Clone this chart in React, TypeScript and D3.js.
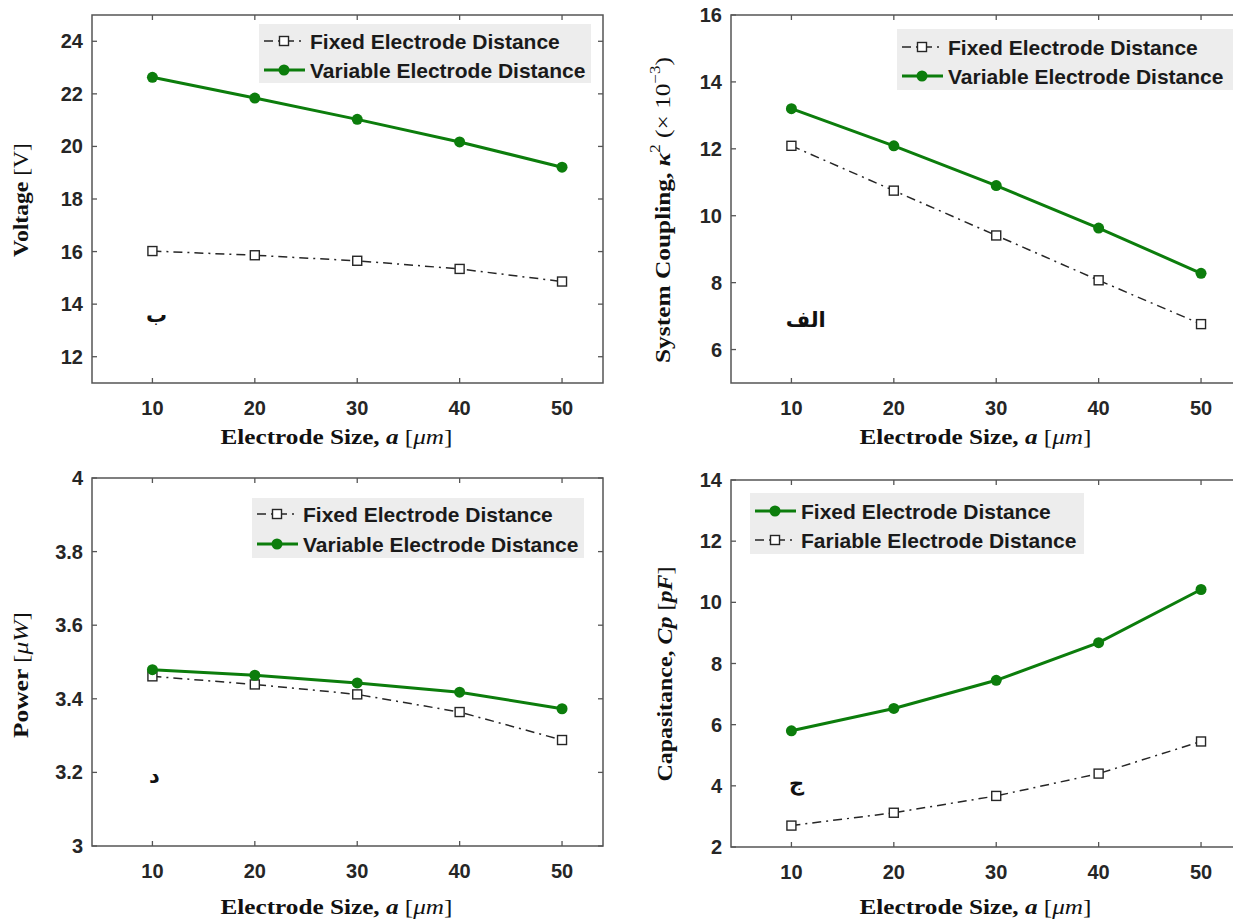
import React from 'react';
import * as d3 from 'd3';

const electrodeSize = [10, 20, 30, 40, 50];
const xTickValues = [10, 20, 30, 40, 50];

const voltageFixed = [16.02, 15.86, 15.65, 15.34, 14.86];
const voltageVariable = [22.63, 21.84, 21.03, 20.17, 19.21];
const voltageTicks = [12, 14, 16, 18, 20, 22, 24];

const couplingFixed = [12.09, 10.75, 9.41, 8.07, 6.76];
const couplingVariable = [13.2, 12.09, 10.9, 9.63, 8.28];
const couplingTicks = [6, 8, 10, 12, 14, 16];

const powerFixed = [3.461, 3.439, 3.412, 3.364, 3.288];
const powerVariable = [3.479, 3.464, 3.443, 3.418, 3.373];
const powerTicks = [3, 3.2, 3.4, 3.6, 3.8, 4];

const capacitanceGreen = [5.8, 6.53, 7.45, 8.68, 10.42];
const capacitanceDashed = [2.7, 3.12, 3.67, 4.4, 5.45];
const capacitanceTicks = [2, 4, 6, 8, 10, 12, 14];

const legendStandard = ['Fixed Electrode Distance', 'Variable Electrode Distance'];
const legendCapacitance = ['Fixed Electrode Distance', 'Fariable Electrode Distance'];

const GREEN = '#0c7d0c';
const DASH = '#262626';
const AXIS = '#555555';
const DASHARRAY = '9,5,2,5';
const SANS = '"Liberation Sans", Arial, sans-serif';
const SERIF = '"Liberation Serif", "Times New Roman", serif';

type Style = 'green' | 'dash';
interface Series { values: number[]; style: Style }
interface LegendEntry { label: string; style: Style }
interface Box { l: number; t: number; r: number; b: number }

function Marker({ x, y, style }: { x: number; y: number; style: Style }) {
  if (style === 'green') return <circle cx={x} cy={y} r={5.5} fill={GREEN} />;
  return <rect x={x - 4.5} y={y - 4.5} width={9} height={9} fill="white" stroke={DASH} strokeWidth={1.4} />;
}

function Panel(props: {
  box: Box; xDomain: [number, number]; yDomain: [number, number]; yTicks: number[];
  series: Series[]; legendBox: Box; legend: LegendEntry[]; legendRows: [number, number];
  ylabel: React.ReactNode; ylabelX: number; ylabelLen: number; ylabelCY: number;
  xlabelY: number; arabic: { text: string; x: number; y: number };
}) {
  const { box } = props;
  const x = d3.scaleLinear().domain(props.xDomain).range([box.l, box.r]);
  const y = d3.scaleLinear().domain(props.yDomain).range([box.b, box.t]);
  const line = d3.line<number>().x((_, i) => x(electrodeSize[i])).y((d) => y(d));
  const tl = 5;
  const fmt = (v: number) => String(+v.toFixed(1));
  const lb = props.legendBox;
  return (
    <g>
      {props.series.map((s, si) => (
        <g key={si}>
          <path d={line(s.values) || ''} fill="none"
            stroke={s.style === 'green' ? GREEN : DASH}
            strokeWidth={s.style === 'green' ? 3 : 1.5}
            strokeDasharray={s.style === 'green' ? undefined : DASHARRAY} />
          {s.values.map((v, i) => <Marker key={i} x={x(electrodeSize[i])} y={y(v)} style={s.style} />)}
        </g>
      ))}
      <rect x={box.l} y={box.t} width={box.r - box.l} height={box.b - box.t} fill="none" stroke={AXIS} strokeWidth={1.5} />
      {xTickValues.map((t) => (
        <g key={'x' + t}>
          <line x1={x(t)} x2={x(t)} y1={box.b} y2={box.b - tl} stroke={AXIS} strokeWidth={1.3} />
          <line x1={x(t)} x2={x(t)} y1={box.t} y2={box.t + tl} stroke={AXIS} strokeWidth={1.3} />
          <text x={x(t)} y={box.b + 25} textAnchor="middle" dominantBaseline="central"
            fontFamily={SANS} fontWeight="bold" fontSize={20} fill="#262626">{t}</text>
        </g>
      ))}
      {props.yTicks.map((t) => (
        <g key={'y' + t}>
          <line x1={box.l} x2={box.l + tl} y1={y(t)} y2={y(t)} stroke={AXIS} strokeWidth={1.3} />
          <line x1={box.r} x2={box.r - tl} y1={y(t)} y2={y(t)} stroke={AXIS} strokeWidth={1.3} />
          <text x={box.l - 9} y={y(t)} textAnchor="end" dominantBaseline="central"
            fontFamily={SANS} fontWeight="bold" fontSize={20} fill="#262626">{fmt(t)}</text>
        </g>
      ))}
      <rect x={lb.l} y={lb.t} width={lb.r - lb.l} height={lb.b - lb.t} fill="#ededed" />
      {props.legend.map((e, i) => {
        const ry = props.legendRows[i];
        return (
          <g key={'l' + i}>
            <line x1={lb.l + 5} x2={lb.l + 46} y1={ry} y2={ry}
              stroke={e.style === 'green' ? GREEN : DASH}
              strokeWidth={e.style === 'green' ? 3 : 1.5}
              strokeDasharray={e.style === 'green' ? undefined : DASHARRAY} />
            <Marker x={lb.l + 25} y={ry} style={e.style} />
            <text x={lb.l + 51} y={ry} dominantBaseline="central" fontFamily={SANS}
              fontWeight="bold" fontSize={21} fill="#1a1a1a">{e.label}</text>
          </g>
        );
      })}
      <text x={(box.l + box.r) / 2 - 11} y={props.xlabelY} textAnchor="middle" dominantBaseline="central"
        fontFamily={SERIF} fontSize={21} fill="#111" textLength={232} lengthAdjust="spacingAndGlyphs">
        <tspan fontWeight="bold">Electrode Size, </tspan>
        <tspan fontStyle="italic" fontWeight="bold">a</tspan>
        <tspan> [</tspan>
        <tspan fontStyle="italic">μm</tspan>
        <tspan>]</tspan>
      </text>
      <text transform={`translate(${props.ylabelX},${props.ylabelCY}) rotate(-90)`} textAnchor="middle"
        dominantBaseline="central" fontFamily={SERIF} fontSize={21} fill="#111"
        textLength={props.ylabelLen} lengthAdjust="spacingAndGlyphs">
        {props.ylabel}
      </text>
      <text x={x(props.arabic.x)} y={y(props.arabic.y)} textAnchor="middle" dominantBaseline="central"
        fontFamily='"DejaVu Sans", sans-serif' fontWeight="bold" fontSize={21} fill="#111">{props.arabic.text}</text>
    </g>
  );
}

export default function App() {
  const xDomain: [number, number] = [4.1, 54];
  return (
    <div style={{ position: 'absolute', left: 0, top: 0 }}>
      <svg width={1233} height={919} style={{ display: 'block', background: 'white' }}>
        <rect x={0} y={0} width={1233} height={919} fill="white" />
        <Panel
          box={{ l: 92, t: 15, r: 603, b: 383 }} xDomain={xDomain} yDomain={[11, 25]} yTicks={voltageTicks}
          series={[{ values: voltageFixed, style: 'dash' }, { values: voltageVariable, style: 'green' }]}
          legendBox={{ l: 259, t: 24, r: 591, b: 83 }} legendRows={[41, 70]}
          legend={[{ label: legendStandard[0], style: 'dash' }, { label: legendStandard[1], style: 'green' }]}
          ylabel={<><tspan fontWeight="bold">Voltage</tspan><tspan> [V]</tspan></>}
          ylabelX={21} ylabelLen={114} ylabelCY={200} xlabelY={437}
          arabic={{ text: 'ب', x: 10.4, y: 13.6 }}
        />
        <Panel
          box={{ l: 731, t: 15, r: 1242, b: 383 }} xDomain={xDomain} yDomain={[5, 16]} yTicks={couplingTicks}
          series={[{ values: couplingFixed, style: 'dash' }, { values: couplingVariable, style: 'green' }]}
          legendBox={{ l: 897, t: 29, r: 1242, b: 90 }} legendRows={[47, 76]}
          legend={[{ label: legendStandard[0], style: 'dash' }, { label: legendStandard[1], style: 'green' }]}
          ylabel={<>
            <tspan fontWeight="bold">System Coupling, </tspan>
            <tspan fontWeight="bold" fontStyle="italic">κ</tspan>
            <tspan fontSize={14} dy={-8}>2</tspan>
            <tspan dy={8}> (× 10</tspan>
            <tspan fontSize={14} dy={-8}>−3</tspan>
            <tspan dy={8}>)</tspan>
          </>}
          ylabelX={663} ylabelLen={306} ylabelCY={210} xlabelY={437}
          arabic={{ text: 'الف', x: 11.4, y: 6.88 }}
        />
        <Panel
          box={{ l: 92, t: 478, r: 603, b: 846 }} xDomain={xDomain} yDomain={[3, 4]} yTicks={powerTicks}
          series={[{ values: powerFixed, style: 'dash' }, { values: powerVariable, style: 'green' }]}
          legendBox={{ l: 252, t: 498, r: 584, b: 558 }} legendRows={[514, 544]}
          legend={[{ label: legendStandard[0], style: 'dash' }, { label: legendStandard[1], style: 'green' }]}
          ylabel={<><tspan fontWeight="bold">Power </tspan><tspan>[</tspan><tspan fontStyle="italic">μW</tspan><tspan>]</tspan></>}
          ylabelX={21} ylabelLen={126} ylabelCY={675} xlabelY={907}
          arabic={{ text: 'د', x: 10.2, y: 3.19 }}
        />
        <Panel
          box={{ l: 731, t: 480, r: 1242, b: 847 }} xDomain={xDomain} yDomain={[2, 14]} yTicks={capacitanceTicks}
          series={[{ values: capacitanceDashed, style: 'dash' }, { values: capacitanceGreen, style: 'green' }]}
          legendBox={{ l: 750, t: 493, r: 1084, b: 554 }} legendRows={[511, 540]}
          legend={[{ label: legendCapacitance[0], style: 'green' }, { label: legendCapacitance[1], style: 'dash' }]}
          ylabel={<>
            <tspan fontWeight="bold">Capasitance, </tspan>
            <tspan fontWeight="bold" fontStyle="italic">Cp</tspan>
            <tspan> [</tspan><tspan fontWeight="bold" fontStyle="italic">pF</tspan><tspan>]</tspan>
          </>}
          ylabelX={665} ylabelLen={215} ylabelCY={674} xlabelY={907}
          arabic={{ text: 'ج', x: 10.5, y: 4.1 }}
        />
      </svg>
    </div>
  );
}
